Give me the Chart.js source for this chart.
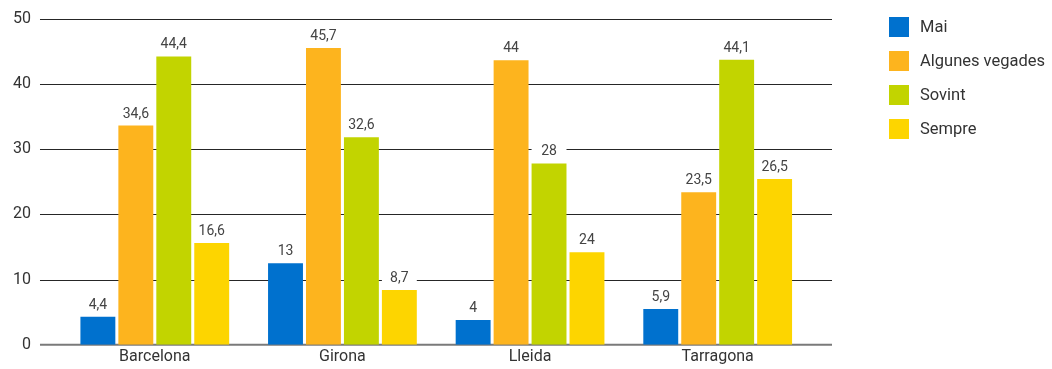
<!DOCTYPE html>
<html>
<head>
<meta charset="utf-8">
<script src="https://cdn.jsdelivr.net/npm/chart.js@4"></script>
<style>
  body { margin: 0; background: #fff; }
  #wrap { position: relative; width: 1052px; height: 369px; }
  #legend { position: absolute; left: 889px; top: 17px; font-family: Roboto, sans-serif; font-size: 16.5px; color: #333; }
  #legend div { height: 34px; display: flex; align-items: flex-start; }
  #legend span.box { display: inline-block; width: 20px; height: 20px; margin-right: 11px; }
  #legend span.txt { line-height: 20px; }
</style>
</head>
<body>
<div id="wrap">
  <canvas id="chart" width="1052" height="369"></canvas>
  <div id="legend"></div>
</div>
<script>
const categories = ["Barcelona", "Girona", "Lleida", "Tarragona"];
const seriesNames = ["Mai", "Algunes vegades", "Sovint", "Sempre"];
const colors = ["#0071ce", "#fdb41e", "#c2d400", "#fdd500"];

// bar heights as drawn in the picture
const mai = [4.3, 12.5, 3.8, 5.5];
const algunesVegades = [33.6, 45.5, 43.6, 23.4];
const sovint = [44.2, 31.8, 27.8, 43.7];
const sempre = [15.6, 8.4, 14.2, 25.4];

// value labels as printed above the bars
const maiLabels = ["4,4", "13", "4", "5,9"];
const algunesLabels = ["34,6", "45,7", "44", "23,5"];
const sovintLabels = ["44,4", "32,6", "28", "44,1"];
const sempreLabels = ["16,6", "8,7", "24", "26,5"];

const yTicks = [0, 10, 20, 30, 40, 50];

const seriesValues = [mai, algunesVegades, sovint, sempre];
const seriesLabels = [maiLabels, algunesLabels, sovintLabels, sempreLabels];

const fontFamily = "Roboto, sans-serif";

// horizontal lines run a bit past the category band on both sides
const wideGrid = {
  id: "wideGrid",
  beforeDatasetsDraw(chart) {
    const ctx = chart.ctx;
    const area = chart.chartArea;
    const y = chart.scales.y;
    ctx.save();
    y.ticks.forEach((t) => {
      const py = y.getPixelForValue(t.value);
      ctx.beginPath();
      if (t.value === 0) {
        ctx.strokeStyle = "#7a7a7a";
        ctx.lineWidth = 2;
      } else {
        ctx.strokeStyle = "#262626";
        ctx.lineWidth = 1;
      }
      const yy = t.value === 0 ? py : Math.round(py) + 0.5;
      ctx.moveTo(area.left - 21, yy);
      ctx.lineTo(area.right + 20.5, yy);
      ctx.stroke();
    });
    ctx.restore();
  },
};

// white box behind the value label, then the text on top of the bars
const valueLabels = {
  id: "valueLabels",
  beforeDatasetsDraw(chart) {
    const ctx = chart.ctx;
    ctx.save();
    ctx.fillStyle = "#fff";
    chart.data.datasets.forEach((ds, i) => {
      chart.getDatasetMeta(i).data.forEach((bar) => {
        const w = bar.width;
        ctx.fillRect(bar.x - w / 2, bar.y - 24, w, 24);
      });
    });
    ctx.restore();
  },
  afterDatasetsDraw(chart) {
    const ctx = chart.ctx;
    ctx.save();
    ctx.font = "14px " + fontFamily;
    ctx.fillStyle = "#444";
    ctx.textAlign = "center";
    ctx.textBaseline = "alphabetic";
    chart.data.datasets.forEach((ds, i) => {
      chart.getDatasetMeta(i).data.forEach((bar, j) => {
        ctx.fillText(seriesLabels[i][j], bar.x, bar.y - 8);
      });
    });
    ctx.restore();
  },
};

window.onload = () => {
  const ctx = document.getElementById("chart");
  new Chart(ctx, {
    type: "bar",
    data: {
      labels: categories,
      datasets: seriesNames.map((name, i) => ({
        label: name,
        data: seriesValues[i],
        backgroundColor: colors[i],
        categoryPercentage: 0.809,
        barPercentage: 0.92,
      })),
    },
    options: {
      responsive: false,
      animation: false,
      events: [],
      layout: { padding: { left: 6, right: 240.5, top: 9, bottom: 0 } },
      plugins: {
        legend: { display: false },
        tooltip: { enabled: false },
      },
      scales: {
        x: {
          grid: { display: false, drawTicks: false },
          border: { display: false },
          ticks: { color: "#333", font: { family: fontFamily, size: 16 }, padding: 2.5 },
        },
        y: {
          min: 0,
          max: 50,
          afterBuildTicks: (axis) => {
            axis.ticks = yTicks.map((v) => ({ value: v }));
          },
          // the big label gap should not grow the other sides
          afterFit: (axis) => {
            axis.paddingTop -= 21;
            axis.paddingBottom -= 21;
            axis.width -= 23;
          },
          grid: { display: false, drawTicks: false },
          border: { display: false },
          ticks: { color: "#333", font: { family: fontFamily, size: 16 }, padding: 30 },
        },
      },
    },
    plugins: [wideGrid, valueLabels],
  });

  const legend = document.getElementById("legend");
  seriesNames.forEach((name, i) => {
    const row = document.createElement("div");
    row.innerHTML = '<span class="box" style="background:' + colors[i] + '"></span><span class="txt">' + name + "</span>";
    legend.appendChild(row);
  });
};
</script>
</body>
</html>
